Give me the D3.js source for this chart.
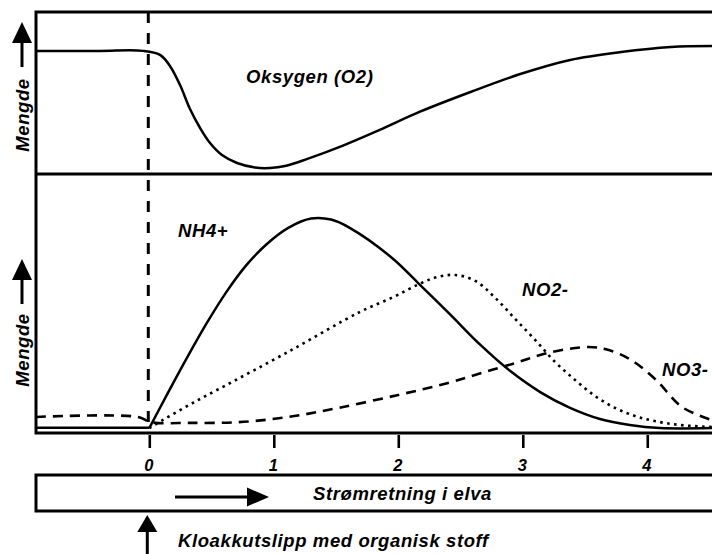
<!DOCTYPE html>
<html>
<head>
<meta charset="utf-8">
<script src="https://cdn.jsdelivr.net/npm/d3@7"></script>
<style>
  html, body { margin: 0; padding: 0; background: #fff; }
  svg { display: block; }
  text { font-family: "Liberation Sans", Arial, Helvetica, sans-serif; font-weight: bold; font-style: italic; fill: #000; }
</style>
</head>
<body>
<svg id="chart" width="712" height="554"></svg>
<script>
// ---- data (distance along river, relative amount) ----
const xTicks = [0, 1, 2, 3, 4];
const xDomain = [-0.91, 4.52];

const o2Dist  = [-0.91, -0.4, -0.05, 0.086, 0.166, 0.247, 0.327, 0.408, 0.488, 0.584, 0.705, 0.849, 0.97, 1.09, 1.27, 1.53, 1.85, 2.17, 2.58, 2.98, 3.38, 3.79, 4.19, 4.52];
const o2Value = [76, 76, 76, 73.5, 66.7, 54.9, 40.1, 28.4, 19.1, 11.7, 6.8, 4.0, 3.7, 4.9, 9.3, 16.7, 27.2, 38.3, 50.6, 61.7, 70.4, 75.3, 78.4, 79];

const nh4BaseDist  = [-0.91, 0];
const nh4BaseValue = [2, 2];
const nh4Dist  = [0, 0.14, 0.30, 0.46, 0.62, 0.78, 0.94, 1.12, 1.30, 1.46, 1.61, 1.95, 2.16, 2.42, 2.66, 2.90, 3.14, 3.38, 3.62, 3.86, 4.10, 4.52];
const nh4Value = [1.9, 14.6, 28.8, 42.3, 54.5, 64.8, 72.8, 79.3, 82.8, 82.4, 79.2, 67.6, 57.9, 45.6, 34.0, 23.9, 15.8, 9.7, 5.4, 3.1, 1.9, 1.9];

const no2Dist  = [0, 0.27, 0.54, 1.13, 1.69, 1.96, 2.15, 2.31, 2.46, 2.62, 2.78, 2.94, 3.10, 3.26, 3.42, 3.58, 3.74, 3.90, 4.06, 4.26, 4.52];
const no2Value = [1.9, 9.5, 16.5, 31.7, 46.7, 52.5, 57.1, 60.2, 61, 58.7, 52.1, 44, 35.9, 27.4, 20.5, 14.3, 9.7, 6.6, 4.6, 3.1, 2.3];

const no3Dist  = [-0.91, -0.09, 0.01, 0.32, 0.72, 1.12, 1.52, 2.0, 2.40, 2.67, 2.94, 3.20, 3.53, 3.69, 3.87, 4.07, 4.28, 4.52];
const no3Value = [6.2, 6.2, 4.2, 3.9, 4.2, 6.2, 9.7, 14.7, 19.3, 23.2, 27, 30.9, 33.2, 32, 28.2, 20.5, 10, 5];

const labels = {
  amount: "Mengde",
  o2: "Oksygen (O2)",
  nh4: "NH4+",
  no2: "NO2-",
  no3: "NO3-",
  flow: "Strømretning i elva",
  release: "Kloakkutslipp med organisk stoff"
};

// ---- layout ----
const svg = d3.select("#chart");
const pLeft = 36, pRight = 712, pTop = 12, pMid = 174, pBottom = 433;

const x = d3.scaleLinear().domain(xDomain).range([pLeft, pRight]);
const yTop = d3.scaleLinear().domain([0, 100]).range([pMid, pTop]);
const yBot = d3.scaleLinear().domain([0, 100]).range([pBottom, pMid]);

const zip = (a, b) => a.map((d, i) => [d, b[i]]);
const curve = d3.curveCatmullRom.alpha(0.5);
const lineTop = d3.line().x(d => x(d[0])).y(d => yTop(d[1])).curve(curve);
const lineBot = d3.line().x(d => x(d[0])).y(d => yBot(d[1])).curve(curve);

const fontSize = 18.5, ls = 0.6;

// curves
svg.append("path").attr("d", lineTop(zip(o2Dist, o2Value)))
  .attr("fill", "none").attr("stroke", "#000").attr("stroke-width", 2.5);

svg.append("path").attr("d", lineBot(zip(nh4BaseDist, nh4BaseValue)))
  .attr("fill", "none").attr("stroke", "#000").attr("stroke-width", 2.5);
svg.append("path").attr("d", lineBot(zip(nh4Dist, nh4Value)))
  .attr("fill", "none").attr("stroke", "#000").attr("stroke-width", 2.5);

svg.append("path").attr("d", lineBot(zip(no2Dist, no2Value)))
  .attr("fill", "none").attr("stroke", "#000").attr("stroke-width", 2.6)
  .attr("stroke-dasharray", "2.6,4.4");

svg.append("path").attr("d", lineBot(zip(no3Dist, no3Value)))
  .attr("fill", "none").attr("stroke", "#000").attr("stroke-width", 2.6)
  .attr("stroke-dasharray", "10,7");

// vertical dashed release line
svg.append("line").attr("x1", x(0) - 1).attr("x2", x(0) - 1).attr("y1", pTop).attr("y2", pBottom - 5)
  .attr("stroke", "#000").attr("stroke-width", 3).attr("stroke-dasharray", "11,10");

// frame
const frame = svg.append("g").attr("stroke", "#000").attr("stroke-width", 3).attr("fill", "none");
frame.append("path").attr("d", `M${pRight + 5},${pTop}H${pLeft}V${pBottom}H${pRight + 5}`);
frame.append("line").attr("x1", pLeft).attr("x2", pRight + 5).attr("y1", pMid).attr("y2", pMid);

// x axis
const axis = d3.axisBottom(x).tickValues(xTicks).tickSize(13).tickPadding(11.5).tickFormat(d3.format("d"));
const ag = svg.append("g").attr("transform", `translate(0,${pBottom + 2})`).call(axis);
ag.select(".domain").remove();
ag.selectAll(".tick line").attr("stroke", "#000").attr("stroke-width", 2.6);
ag.selectAll(".tick text").attr("font-size", 16.5).attr("font-family", "Liberation Sans, Arial, sans-serif")
  .attr("font-weight", "bold").attr("font-style", "italic").attr("fill", "#000").attr("dx", -1);

// y labels and arrows
function amountLabel(cy, arrowTip) {
  svg.append("text").attr("transform", `translate(29,${cy}) rotate(-90)`)
    .attr("text-anchor", "middle").attr("font-size", fontSize).attr("letter-spacing", ls)
    .text(labels.amount);
  const ax = 22;
  svg.append("path").attr("d", `M${ax},${arrowTip}L${ax + 10},${arrowTip + 21}L${ax - 10},${arrowTip + 21}Z`).attr("fill", "#000");
  svg.append("line").attr("x1", ax).attr("x2", ax).attr("y1", arrowTip + 20).attr("y2", arrowTip + 45)
    .attr("stroke", "#000").attr("stroke-width", 3);
}
amountLabel(115, 22);
amountLabel(350, 259);

// series labels
const lab = (t, tx, ty) => svg.append("text").attr("x", tx).attr("y", ty)
  .attr("font-size", fontSize).attr("letter-spacing", ls).text(t);
lab(labels.o2, 246, 83);
lab(labels.nh4, 178, 237);
lab(labels.no2, 522, 296);
lab(labels.no3, 662, 376);

// flow box
svg.append("rect").attr("x", pLeft).attr("y", 475).attr("width", pRight - pLeft + 10).attr("height", 36)
  .attr("fill", "none").attr("stroke", "#000").attr("stroke-width", 3);
svg.append("line").attr("x1", 175).attr("x2", 250).attr("y1", 497).attr("y2", 497)
  .attr("stroke", "#000").attr("stroke-width", 3);
svg.append("path").attr("d", "M269,497L247,487.5L247,506.5Z").attr("fill", "#000");
lab(labels.flow, 313, 500);

// release arrow
const rx = x(0) - 2;
svg.append("path").attr("d", `M${rx},515L${rx + 10},532L${rx - 10},532Z`).attr("fill", "#000");
svg.append("line").attr("x1", rx).attr("x2", rx).attr("y1", 530).attr("y2", 556)
  .attr("stroke", "#000").attr("stroke-width", 3);
lab(labels.release, 178, 547);
</script>
</body>
</html>
